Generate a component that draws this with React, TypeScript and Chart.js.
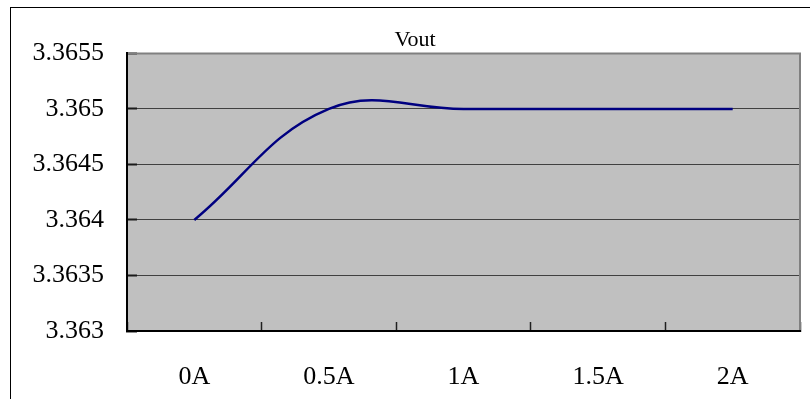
import React, { useEffect, useRef } from 'react';
import { Chart, registerables } from 'chart.js';

Chart.register(...registerables);

const categories: string[] = ['0A', '0.5A', '1A', '1.5A', '2A'];
const vout: number[] = [3.364, 3.365, 3.365, 3.365, 3.365];
const yTickValues: number[] = [3.363, 3.3635, 3.364, 3.3645, 3.365, 3.3655];
const yTickLabels: string[] = ['3.363', '3.3635', '3.364', '3.3645', '3.365', '3.3655'];
const chartTitle = 'Vout';

const FONT = "'Liberation Serif', 'Times New Roman', serif";

const framePlugin = {
  id: 'frame',
  beforeDraw(chart: any) {
    const { ctx, chartArea: a, width, height } = chart;
    ctx.save();
    ctx.fillStyle = '#ffffff';
    ctx.fillRect(0, 0, width, height);
    ctx.strokeStyle = '#000000';
    ctx.lineWidth = 1;
    ctx.strokeRect(10.5, 7.5, width + 40, height + 40);
    ctx.fillStyle = '#c0c0c0';
    ctx.fillRect(a.left, a.top, a.right - a.left, a.bottom - a.top);
    ctx.restore();
  },
  afterDraw(chart: any) {
    const { ctx, chartArea: a } = chart;
    ctx.save();
    ctx.strokeStyle = '#808080';
    ctx.lineWidth = 2;
    ctx.beginPath();
    ctx.moveTo(a.left + 1, a.top);
    ctx.lineTo(a.right, a.top);
    ctx.lineTo(a.right, a.bottom - 1);
    ctx.stroke();
    ctx.restore();
  },
};

export default function App() {
  const ref = useRef<HTMLCanvasElement | null>(null);

  useEffect(() => {
    if (!ref.current) return;
    const chart = new Chart(ref.current, {
      type: 'line',
      data: {
        labels: categories,
        datasets: [
          {
            label: chartTitle,
            data: vout,
            borderColor: '#000080',
            borderWidth: 2.5,
            pointRadius: 0,
            tension: 0.4,
            fill: false,
          },
        ],
      },
      options: {
        responsive: false,
        animation: false,
        devicePixelRatio: 1,
        layout: { padding: { left: 30, right: 10, top: 0, bottom: 0 } },
        plugins: {
          legend: { display: false },
          tooltip: { enabled: false },
          title: {
            display: true,
            text: chartTitle,
            color: '#000',
            font: { family: FONT, size: 22, weight: 'normal', lineHeight: 1.2 },
            padding: { top: 27, bottom: 0 },
          },
        },
        scales: {
          x: {
            type: 'category',
            offset: true,
            afterFit(scale: any) {
              scale.height = 68;
            },
            grid: {
              display: true,
              drawOnChartArea: false,
              drawTicks: true,
              tickLength: -9,
              offset: true,
              color: '#000',
              tickColor: '#202020',
              tickWidth: 1.5,
              lineWidth: 1,
            },
            border: { display: true, color: '#000', width: 2 },
            ticks: {
              color: '#000',
              padding: 40,
              maxRotation: 0,
              font: { family: FONT, size: 26 },
            },
          },
          y: {
            type: 'linear',
            min: 3.363,
            max: 3.3655,
            afterFit(scale: any) {
              scale.width = 97;
            },
            afterBuildTicks(scale: any) {
              scale.ticks = yTickValues.map((v) => ({ value: v }));
            },
            grid: {
              display: true,
              drawTicks: true,
              tickLength: -10,
              color: '#404040',
              tickColor: '#1a1a1a',
              tickWidth: 2,
              lineWidth: 1,
            },
            border: { display: true, color: '#000', width: 2 },
            ticks: {
              color: '#000',
              padding: 33,
              font: { family: FONT, size: 26 },
              callback: (_v: any, i: number) => yTickLabels[i],
            },
          },
        },
      },
      plugins: [framePlugin],
    } as any);
    return () => chart.destroy();
  }, []);

  return (
    <div style={{ position: 'absolute', left: 0, top: 0, width: 810, height: 399 }}>
      <canvas ref={ref} width={810} height={399} style={{ display: 'block' }} />
    </div>
  );
}
